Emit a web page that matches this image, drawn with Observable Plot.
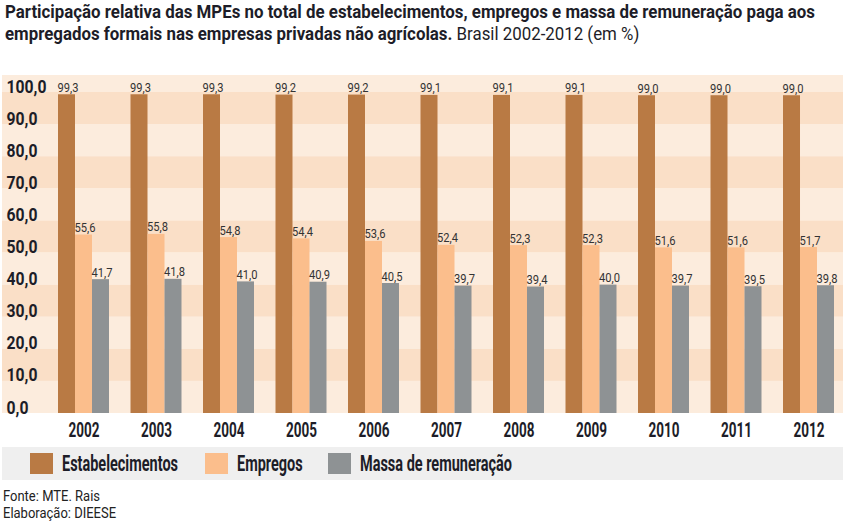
<!DOCTYPE html>
<html>
<head>
<meta charset="utf-8">
<script src="https://cdn.jsdelivr.net/npm/d3@7"></script>
<script src="https://cdn.jsdelivr.net/npm/@observablehq/plot@0.6"></script>
<style>
  html, body { margin: 0; padding: 0; background: #fff; }
  body { width: 847px; height: 523px; position: relative; overflow: hidden;
         font-family: Roboto, "DejaVu Sans", sans-serif; color: #1d1d28; }
  .line { position: absolute; left: 5px; font-size: 18px; line-height: 22px; white-space: nowrap;
          transform-origin: 0 50%; }
  .line b { font-weight: bold; }
  #chart { position: absolute; left: 0; top: 56px; width: 847px; height: 389px; }
  #chart svg { position: absolute; left: 0; top: 0; }
  #legend { position: absolute; left: 2px; top: 447px; width: 841px; height: 33px; background: #efefef; }
  .item { position: absolute; top: 0; height: 33px; display: flex; align-items: center; }
  .sw { width: 23px; height: 21px; }
  .lt { font-weight: bold; font-size: 22px; white-space: nowrap; display: inline-block; transform-origin: 0 50%; margin-left: 9px; }
  .foot { position: absolute; left: 3px; font-size: 14px; line-height: 17px; white-space: nowrap; color: #222; transform-origin: 0 50%; }
</style>
</head>
<body>
<div id="t1" class="line" style="top:1px"></div>
<div id="t2" class="line" style="top:23px"></div>
<div id="chart"></div>
<div id="legend"></div>
<div id="f1" class="foot" style="top:488px"></div>
<div id="f2" class="foot" style="top:505px"></div>
<script>
// ---- data ----
const titleLine1 = "Participação relativa das MPEs no total de estabelecimentos, empregos e massa de remuneração paga aos";
const titleLine2Bold = "empregados formais nas empresas privadas não agrícolas.";
const titleLine2Rest = "Brasil 2002-2012 (em %)";
const years = ["2002","2003","2004","2005","2006","2007","2008","2009","2010","2011","2012"];
const seriesNames = ["Estabelecimentos", "Empregos", "Massa de remuneração"];
const seriesColors = ["#b97a44", "#fbbe8c", "#8e9294"];
const estabelecimentos = [99.3, 99.3, 99.3, 99.2, 99.2, 99.1, 99.1, 99.1, 99.0, 99.0, 99.0];
const empregos        = [55.6, 55.8, 54.8, 54.4, 53.6, 52.4, 52.3, 52.3, 51.6, 51.6, 51.7];
const massa           = [41.7, 41.8, 41.0, 40.9, 40.5, 39.7, 39.4, 40.0, 39.7, 39.5, 39.8];
const yTicks = [0, 10, 20, 30, 40, 50, 60, 70, 80, 90, 100];
const yMax = 105.3;
const footerLines = ["Fonte: MTE. Rais", "Elaboração: DIEESE"];

// ---- build ----
const seriesValues = [estabelecimentos, empregos, massa];
const rows = [];
years.forEach((yr, i) => seriesNames.forEach((s, k) => rows.push({year: yr, series: s, value: seriesValues[k][i]})));
const fmt = v => v.toFixed(1).replace(".", ",");

// horizontal squeeze helper (no condensed font installed)
function squeezeSVG(root, selector, factor) {
  root.querySelectorAll(selector).forEach(t => {
    const w = t.getComputedTextLength();
    if (w > 0) { t.setAttribute("textLength", w * factor); t.setAttribute("lengthAdjust", "spacingAndGlyphs"); }
  });
}

const t1 = document.getElementById("t1");
t1.innerHTML = `<b>${titleLine1}</b>`;
const t2 = document.getElementById("t2");
t2.innerHTML = `<b>${titleLine2Bold}</b> ${titleLine2Rest}`;

const lightBands = yTicks.filter((d, i) => i % 2 === 0);
const darkBands = yTicks.filter((d, i) => i % 2 === 1);

const W = 847, H = 389;
const common = {
  width: W, height: H,
  marginTop: 19, marginBottom: 32, marginLeft: 2, marginRight: 4,
  style: {fontFamily: "Roboto, sans-serif", background: "transparent", overflow: "visible"},
  y: {domain: [0, yMax], axis: null}
};

// background: bands + y labels
const back = Plot.plot({
  ...common,
  marks: [
    Plot.rectY(lightBands, {y1: d => d, y2: d => Math.min(d + 10, yMax), fill: "#fcecdd"}),
    Plot.rectY(darkBands, {y1: d => d, y2: d => Math.min(d + 10, yMax), fill: "#fadfc7"}),
    Plot.text(yTicks, {y: d => d, text: d => fmt(d), frameAnchor: "left", textAnchor: "start", lineAnchor: "bottom",
      dx: 4, fontSize: 19, fontWeight: "bold", fill: "#1d1d28"})
  ]
});

// foreground: grouped bars via fx facets
const front = Plot.plot({
  ...common,
  fx: {domain: years, range: [58, 834], paddingInner: 0.2966, paddingOuter: 0, round: false, label: null},
  x: {domain: seriesNames, paddingInner: 0, paddingOuter: 0, round: false, axis: null},
  color: {domain: seriesNames, range: seriesColors},
  marks: [
    Plot.barY(rows, {fx: "year", x: "series", y: "value", fill: "series", inset: 0}),
    Plot.text(rows, {fx: "year", x: "series", y: "value", text: d => fmt(d.value), lineAnchor: "bottom",
      dy: -3, dx: 1, fontSize: 12.5, fill: "#333"}),
    Plot.axisFx({anchor: "bottom", tickSize: 0, tickPadding: 9, fontSize: 21, fontWeight: "bold", fill: "#1d1d28", label: null})
  ]
});
const chartDiv = document.getElementById("chart");
chartDiv.appendChild(back);
chartDiv.appendChild(front);

// legend
const legend = document.getElementById("legend");
const legendLefts = [28, 203, 326];
seriesNames.forEach((s, k) => {
  const it = document.createElement("div");
  it.className = "item";
  it.style.left = legendLefts[k] + "px";
  it.innerHTML = `<span class="sw" style="background:${seriesColors[k]}"></span><span class="lt">${s}</span>`;
  legend.appendChild(it);
});
document.getElementById("f1").textContent = footerLines[0];
document.getElementById("f2").textContent = footerLines[1];

// condense texts to match the reference's condensed typeface
const f1 = document.getElementById("f1");
const titleFactor = 810 / t1.getBoundingClientRect().width;
t1.style.transform = `scaleX(${titleFactor})`;
t2.style.transform = `scaleX(${titleFactor})`;
const lts = legend.querySelectorAll(".lt");
const legFactor = 116 / lts[0].getBoundingClientRect().width;
lts.forEach(el => { el.style.transform = `scaleX(${legFactor})`; });
const footFactor = 97 / f1.getBoundingClientRect().width;
document.querySelectorAll(".foot").forEach(el => el.style.transform = `scaleX(${footFactor})`);

// SVG texts
const yl = back.querySelectorAll('g[aria-label="text"] text');
const yFactor = 40 / yl[yl.length - 1].getComputedTextLength();
squeezeSVG(back, 'g[aria-label="text"] text', yFactor);
const fxl = front.querySelector('g[aria-label="fx-axis tick label"] text');
const fxFactor = fxl ? 31 / fxl.getComputedTextLength() : 0.7;
squeezeSVG(front, 'g[aria-label="fx-axis tick label"] text', fxFactor);
const vl = front.querySelector('g[aria-label="text"] text');
const vFactor = vl ? 21 / vl.getComputedTextLength() : 0.85;
squeezeSVG(front, 'g[aria-label="text"] text', vFactor);
</script>
</body>
</html>
